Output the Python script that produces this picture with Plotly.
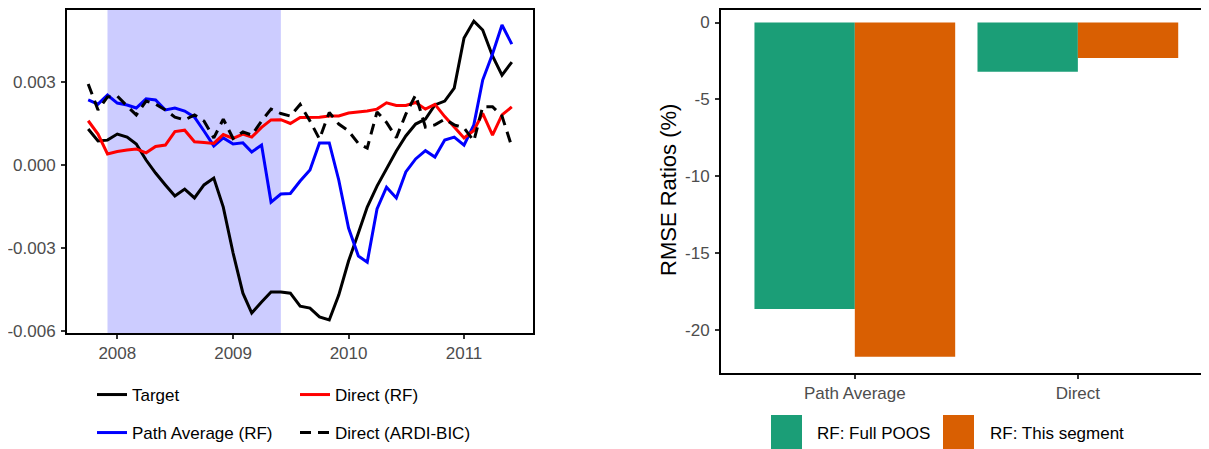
import pandas as pd
import plotly.graph_objects as go

# ---------------- data ----------------
dates = pd.date_range("2007-10-01", "2011-06-01", freq="MS")

target = [0.00130, 0.00087, 0.00090, 0.00112, 0.00101, 0.00076, 0.00018, -0.00029, -0.00072, -0.00112,
          -0.00087, -0.00119, -0.00072, -0.00047, -0.00152, -0.00318, -0.00463, -0.00535, -0.00495, -0.00459,
          -0.00459, -0.00463, -0.00510, -0.00517, -0.00549, -0.00560, -0.00470, -0.00347, -0.00246, -0.00152,
          -0.00076, -0.00011, 0.00051, 0.00105, 0.00148, 0.00166, 0.00217, 0.00231, 0.00278, 0.00459,
          0.00520, 0.00488, 0.00394, 0.00325, 0.00372]

path_avg_rf = [0.00235, 0.00220, 0.00253, 0.00224, 0.00217, 0.00206, 0.00239, 0.00235, 0.00199, 0.00206,
               0.00195, 0.00173, 0.00123, 0.00069, 0.00098, 0.00076, 0.00080, 0.00047, 0.00072, -0.00134,
               -0.00105, -0.00103, -0.00058, -0.00018, 0.00080, 0.00080, -0.00054, -0.00228, -0.00329, -0.00351,
               -0.00159, -0.00080, -0.00119, -0.00025, 0.00022, 0.00052, 0.00029, 0.00090, 0.00101, 0.00072,
               0.00145, 0.00307, 0.00401, 0.00506, 0.00437]

direct_rf = [0.00160, 0.00112, 0.00040, 0.00049, 0.00054, 0.00058, 0.00044, 0.00067, 0.00072, 0.00121,
             0.00126, 0.00084, 0.00081, 0.00078, 0.00110, 0.00096, 0.00112, 0.00101, 0.00136, 0.00163,
             0.00164, 0.00150, 0.00172, 0.00172, 0.00173, 0.00177, 0.00177, 0.00188, 0.00192, 0.00195,
             0.00202, 0.00225, 0.00215, 0.00215, 0.00226, 0.00202, 0.00219, 0.00175, 0.00137, 0.00098,
             0.00125, 0.00187, 0.00108, 0.00181, 0.00210]

direct_ardi = [0.00293, 0.00199, 0.00246, 0.00249, 0.00213, 0.00181, 0.00231, 0.00220, 0.00199, 0.00173,
               0.00163, 0.00181, 0.00159, 0.00098, 0.00166, 0.00096, 0.00120, 0.00108, 0.00159, 0.00202,
               0.00186, 0.00177, 0.00219, 0.00159, 0.00094, 0.00190, 0.00148, 0.00123, 0.00078, 0.00061,
               0.00192, 0.00154, 0.00099, 0.00184, 0.00253, 0.00137, 0.00145, 0.00166, 0.00145, 0.00134,
               0.00087, 0.00211, 0.00211, 0.00177, 0.00066]

recession_start = "2007-12-01"
recession_end = "2009-06-01"

year_ticks = ["2008-01-01", "2009-01-01", "2010-01-01", "2011-01-01"]
year_labels = ["2008", "2009", "2010", "2011"]
left_y_ticks = [0.003, 0.0, -0.003, -0.006]
left_y_labels = ["0.003", "0.000", "-0.003", "-0.006"]

bar_categories = ["Path Average", "Direct"]
rf_full_poos = [-18.6, -3.2]
rf_this_segment = [-21.7, -2.3]
right_y_ticks = [0, -5, -10, -15, -20]
right_y_labels = ["0", "-5", "-10", "-15", "-20"]

# ---------------- figure ----------------
# the page body has an 8px margin, so the figure is 8px smaller than the window
OFF = 8
W, H = 1209 - OFF, 449 - OFF
def px(x):
    return min(1.0, max(0.0, (x - OFF) / W))
def py(y):
    return min(1.0, max(0.0, 1 - (y - OFF) / H))

FONT = "Liberation Sans, Arial, sans-serif"
TICKC = "#4D4D4D"

fig = go.Figure()

fig.add_trace(go.Scatter(x=dates, y=target, mode="lines", name="Target",
                         line=dict(color="black", width=3), legend="legend"))
fig.add_trace(go.Scatter(x=dates, y=path_avg_rf, mode="lines", name="Path Average (RF)",
                         line=dict(color="#0000FF", width=3), legend="legend3"))
fig.add_trace(go.Scatter(x=dates, y=direct_rf, mode="lines", name="Direct (RF)",
                         line=dict(color="#FF0000", width=3), legend="legend2"))
fig.add_trace(go.Scatter(x=dates, y=direct_ardi, mode="lines", name="Direct (ARDI-BIC)",
                         line=dict(color="black", width=3, dash="11px,7px"), legend="legend4"))

fig.add_trace(go.Bar(x=bar_categories, y=rf_full_poos, name="RF: Full POOS",
                     marker=dict(color="#1B9E77", line=dict(width=0)),
                     xaxis="x2", yaxis="y2", showlegend=False))
fig.add_trace(go.Bar(x=bar_categories, y=rf_this_segment, name="RF: This segment",
                     marker=dict(color="#D95F02", line=dict(width=0)),
                     xaxis="x2", yaxis="y2", showlegend=False))

fig.add_shape(type="rect", x0=recession_start, x1=recession_end, xref="x", yref="y domain",
              y0=0, y1=1, fillcolor="#CCCCFF", opacity=1, line_width=0, layer="below")

axis_common = dict(showgrid=False, zeroline=False, ticks="outside", ticklen=4, tickwidth=1.5,
                   tickcolor="#333333", showline=True, linecolor="black", linewidth=2,
                   automargin=False,
                   tickfont=dict(family=FONT, size=17, color=TICKC))

legend_common = dict(font=dict(family=FONT, size=17, color="black"), bgcolor="rgba(0,0,0,0)",
                     xanchor="left", yanchor="middle", itemwidth=30)

fig.update_layout(
    width=W, height=H,
    margin=dict(l=0, r=0, t=0, b=0, autoexpand=False),
    paper_bgcolor="white", plot_bgcolor="white",
    barmode="group", bargap=0.1, bargroupgap=0,
    xaxis=dict(domain=[px(67), px(533)], type="date",
               range=["2007-07-26", "2011-08-07"],
               tickvals=year_ticks, ticktext=year_labels, mirror=True, anchor="y",
               **axis_common),
    yaxis=dict(domain=[py(333), py(9.5)], range=[-0.00607, 0.00562],
               tickvals=left_y_ticks, ticktext=left_y_labels, mirror=True, anchor="x",
               ticklabelstandoff=2, **axis_common),
    xaxis2=dict(domain=[px(721), 1.0], range=[-0.6, 1.588], type="category",
                mirror=True, anchor="y2", **axis_common),
    yaxis2=dict(domain=[py(372.5), py(9.5)], range=[-22.73, 0.844],
                tickvals=right_y_ticks, ticktext=right_y_labels, anchor="x2",
                ticklabelstandoff=2, **axis_common),
    legend=dict(x=px(92), y=py(395), **legend_common),
    legend2=dict(x=px(295), y=py(395), **legend_common),
    legend3=dict(x=px(92), y=py(433), **legend_common),
    legend4=dict(x=px(295), y=py(433), **legend_common),
    showlegend=True,
)

# y title of bar panel
fig.add_annotation(text="RMSE Ratios (%)", x=px(668), y=py(190), xref="paper", yref="paper",
                   textangle=-90, showarrow=False, xanchor="center", yanchor="middle",
                   font=dict(family=FONT, size=22, color="black"))

# bar legend keys
bar_keys = [(771, 802, "#1B9E77", 815, "RF: Full POOS"),
            (943, 974, "#D95F02", 988, "RF: This segment")]
for x0, x1, col, tx, label in bar_keys:
    fig.add_shape(type="rect", xref="paper", yref="paper", x0=px(x0), x1=px(x1),
                  y0=-0.05, y1=py(415), fillcolor=col, line=dict(width=0))
    fig.add_annotation(text=label, x=px(tx), y=py(433), xref="paper", yref="paper",
                       showarrow=False, xanchor="left", yanchor="middle",
                       font=dict(family=FONT, size=17, color="black"))

fig.write_html("out.html")
